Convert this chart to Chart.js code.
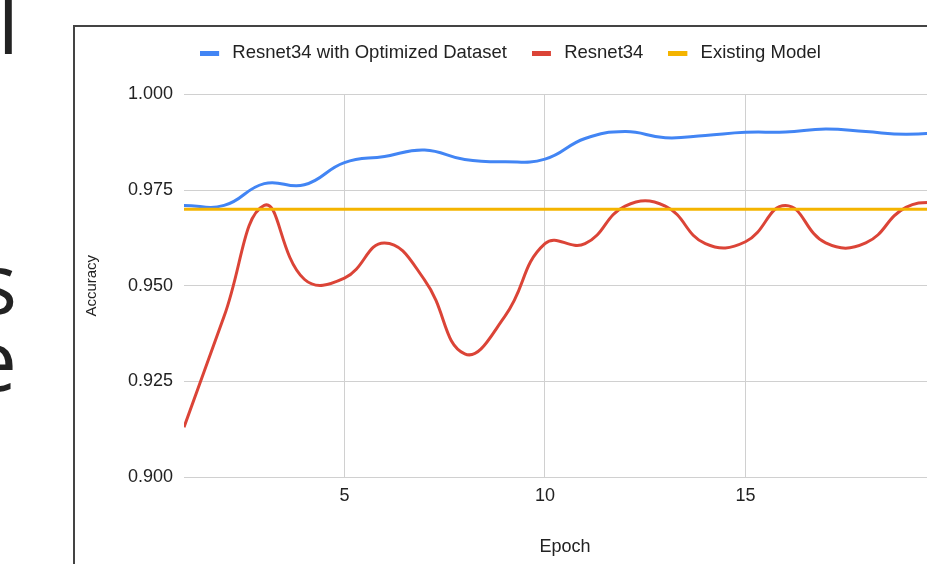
<!DOCTYPE html>
<html>
<head>
<meta charset="utf-8">
<title>Accuracy per epoch</title>
<script src="https://cdn.jsdelivr.net/npm/chart.js@4.4.0/dist/chart.umd.min.js"></script>
<style>
    html, body { margin: 0; padding: 0; width: 927px; height: 564px; overflow: hidden; background: #fff; }
    .slide { position: absolute; right: 910px; font-family: "Open Sans", sans-serif; font-size: 84px; line-height: 1; color: #222; white-space: nowrap; }
    .frame { position: absolute; left: 73px; top: 25px; width: 1000px; height: 700px; border-left: 2px solid #444; border-top: 2px solid #444; }
    .box { position: absolute; left: 0; top: -10px; }
</style>
</head>
<body>

<div class="slide" style="top:-20px; right:908px;">l</div>
<div class="slide" style="top:240px;">s</div>
<div class="slide" style="top:317px;">e</div>

<div class="frame">
    <div class="box">
        <canvas id="chartAcc" width="891" height="561"></canvas>
    </div>
</div>

<script>
// data
const epochs = [1, 2, 3, 4, 5, 6, 7, 8, 9, 10, 11, 12, 13, 14, 15, 16, 17, 18, 19, 20];
const optimizedAcc = [0.9710, 0.9710, 0.9767, 0.9764, 0.9822, 0.9838, 0.9855, 0.9830, 0.9824, 0.9831,
                      0.9885, 0.9903, 0.9887, 0.9893, 0.9901, 0.9902, 0.9910, 0.9903, 0.9896, 0.9902];
const resnetAcc = [0.9130, 0.9420, 0.9710, 0.9517, 0.9520, 0.9612, 0.9515, 0.9322, 0.9420, 0.9610,
                   0.9610, 0.9708, 0.9708, 0.9610, 0.9615, 0.9710, 0.9612, 0.9612, 0.9705, 0.9720];
const existingAcc = [0.970, 0.970, 0.970, 0.970, 0.970, 0.970, 0.970, 0.970, 0.970, 0.970,
                     0.970, 0.970, 0.970, 0.970, 0.970, 0.970, 0.970, 0.970, 0.970, 0.970];
const xTicks = [5, 10, 15, 20];
const yTicks = [0.900, 0.925, 0.950, 0.975, 1.000];

const FONT = "'Liberation Sans', Arial, sans-serif";
const TEXT = "#222";
const GRID = "#d0d0d0";

function points(values) {
    return epochs.map((e, i) => ({ x: e, y: values[i] }));
}

// legend swatch: short thick bar on the left of a 23px slot
function swatch(color) {
    const c = document.createElement("canvas");
    c.width = 23;
    c.height = 5;
    const g = c.getContext("2d");
    g.fillStyle = color;
    g.fillRect(0, 0, 19, 5);
    return c;
}

// extra room under the legend, like the sheet chart
const legendGap = {
    id: "legendGap",
    beforeInit(chart) {
        const fit = chart.legend.fit;
        chart.legend.fit = function () {
            fit.call(this);
            this.height += 22;
        };
    }
};

const chartCtx = document.getElementById("chartAcc").getContext("2d");

const chart = new Chart(chartCtx, {
    type: "line",
    data: {
        datasets: [
            {
                label: "Resnet34 with Optimized Dataset",
                data: points(optimizedAcc),
                borderColor: "#4285F4",
                backgroundColor: "#4285F4",
                pointStyle: swatch("#4285F4"),
                order: 1
            },
            {
                label: "Resnet34",
                data: points(resnetAcc),
                borderColor: "#DB4437",
                backgroundColor: "#DB4437",
                pointStyle: swatch("#DB4437"),
                order: 2
            },
            {
                label: "Existing Model",
                data: points(existingAcc),
                borderColor: "#F4B400",
                backgroundColor: "#F4B400",
                pointStyle: swatch("#F4B400"),
                order: 0
            }
        ]
    },
    options: {
        responsive: false,
        animation: false,
        layout: { padding: { top: 2, right: 20, left: 0, bottom: 0 } },
        elements: {
            line: { borderWidth: 3, tension: 0.45 },
            point: { radius: 0, hoverRadius: 0 }
        },
        plugins: {
            legend: {
                position: "top",
                labels: {
                    usePointStyle: true,
                    pointStyleWidth: 23,
                    padding: 25,
                    color: TEXT,
                    font: { family: FONT, size: 18.5 },
                    sort: (a, b) => a.datasetIndex - b.datasetIndex
                }
            },
            tooltip: { enabled: false }
        },
        scales: {
            x: {
                type: "linear",
                min: 1,
                max: 20,
                afterBuildTicks: s => { s.ticks = xTicks.map(v => ({ value: v })); },
                afterFit: s => { s.height = 101; },
                border: { display: false },
                grid: { color: GRID, drawTicks: false },
                ticks: { padding: 8, color: TEXT, font: { family: FONT, size: 18 } },
                title: {
                    display: true,
                    text: "Epoch",
                    color: TEXT,
                    font: { family: FONT, size: 18 },
                    padding: { top: 0, bottom: 20 }
                }
            },
            y: {
                min: 0.9,
                max: 1.0,
                afterBuildTicks: s => { s.ticks = yTicks.map(v => ({ value: v })); },
                afterFit: s => { s.width = 109; },
                border: { display: false },
                grid: { color: GRID, drawTicks: false },
                ticks: {
                    padding: 11,
                    color: TEXT,
                    font: { family: FONT, size: 18 },
                    callback: v => Number(v).toFixed(3)
                },
                title: {
                    display: true,
                    text: "Accuracy",
                    color: TEXT,
                    font: { family: FONT, size: 15 },
                    padding: { top: 8, bottom: 0 }
                }
            }
        }
    },
    plugins: [legendGap]
});
</script>
</body>
</html>
